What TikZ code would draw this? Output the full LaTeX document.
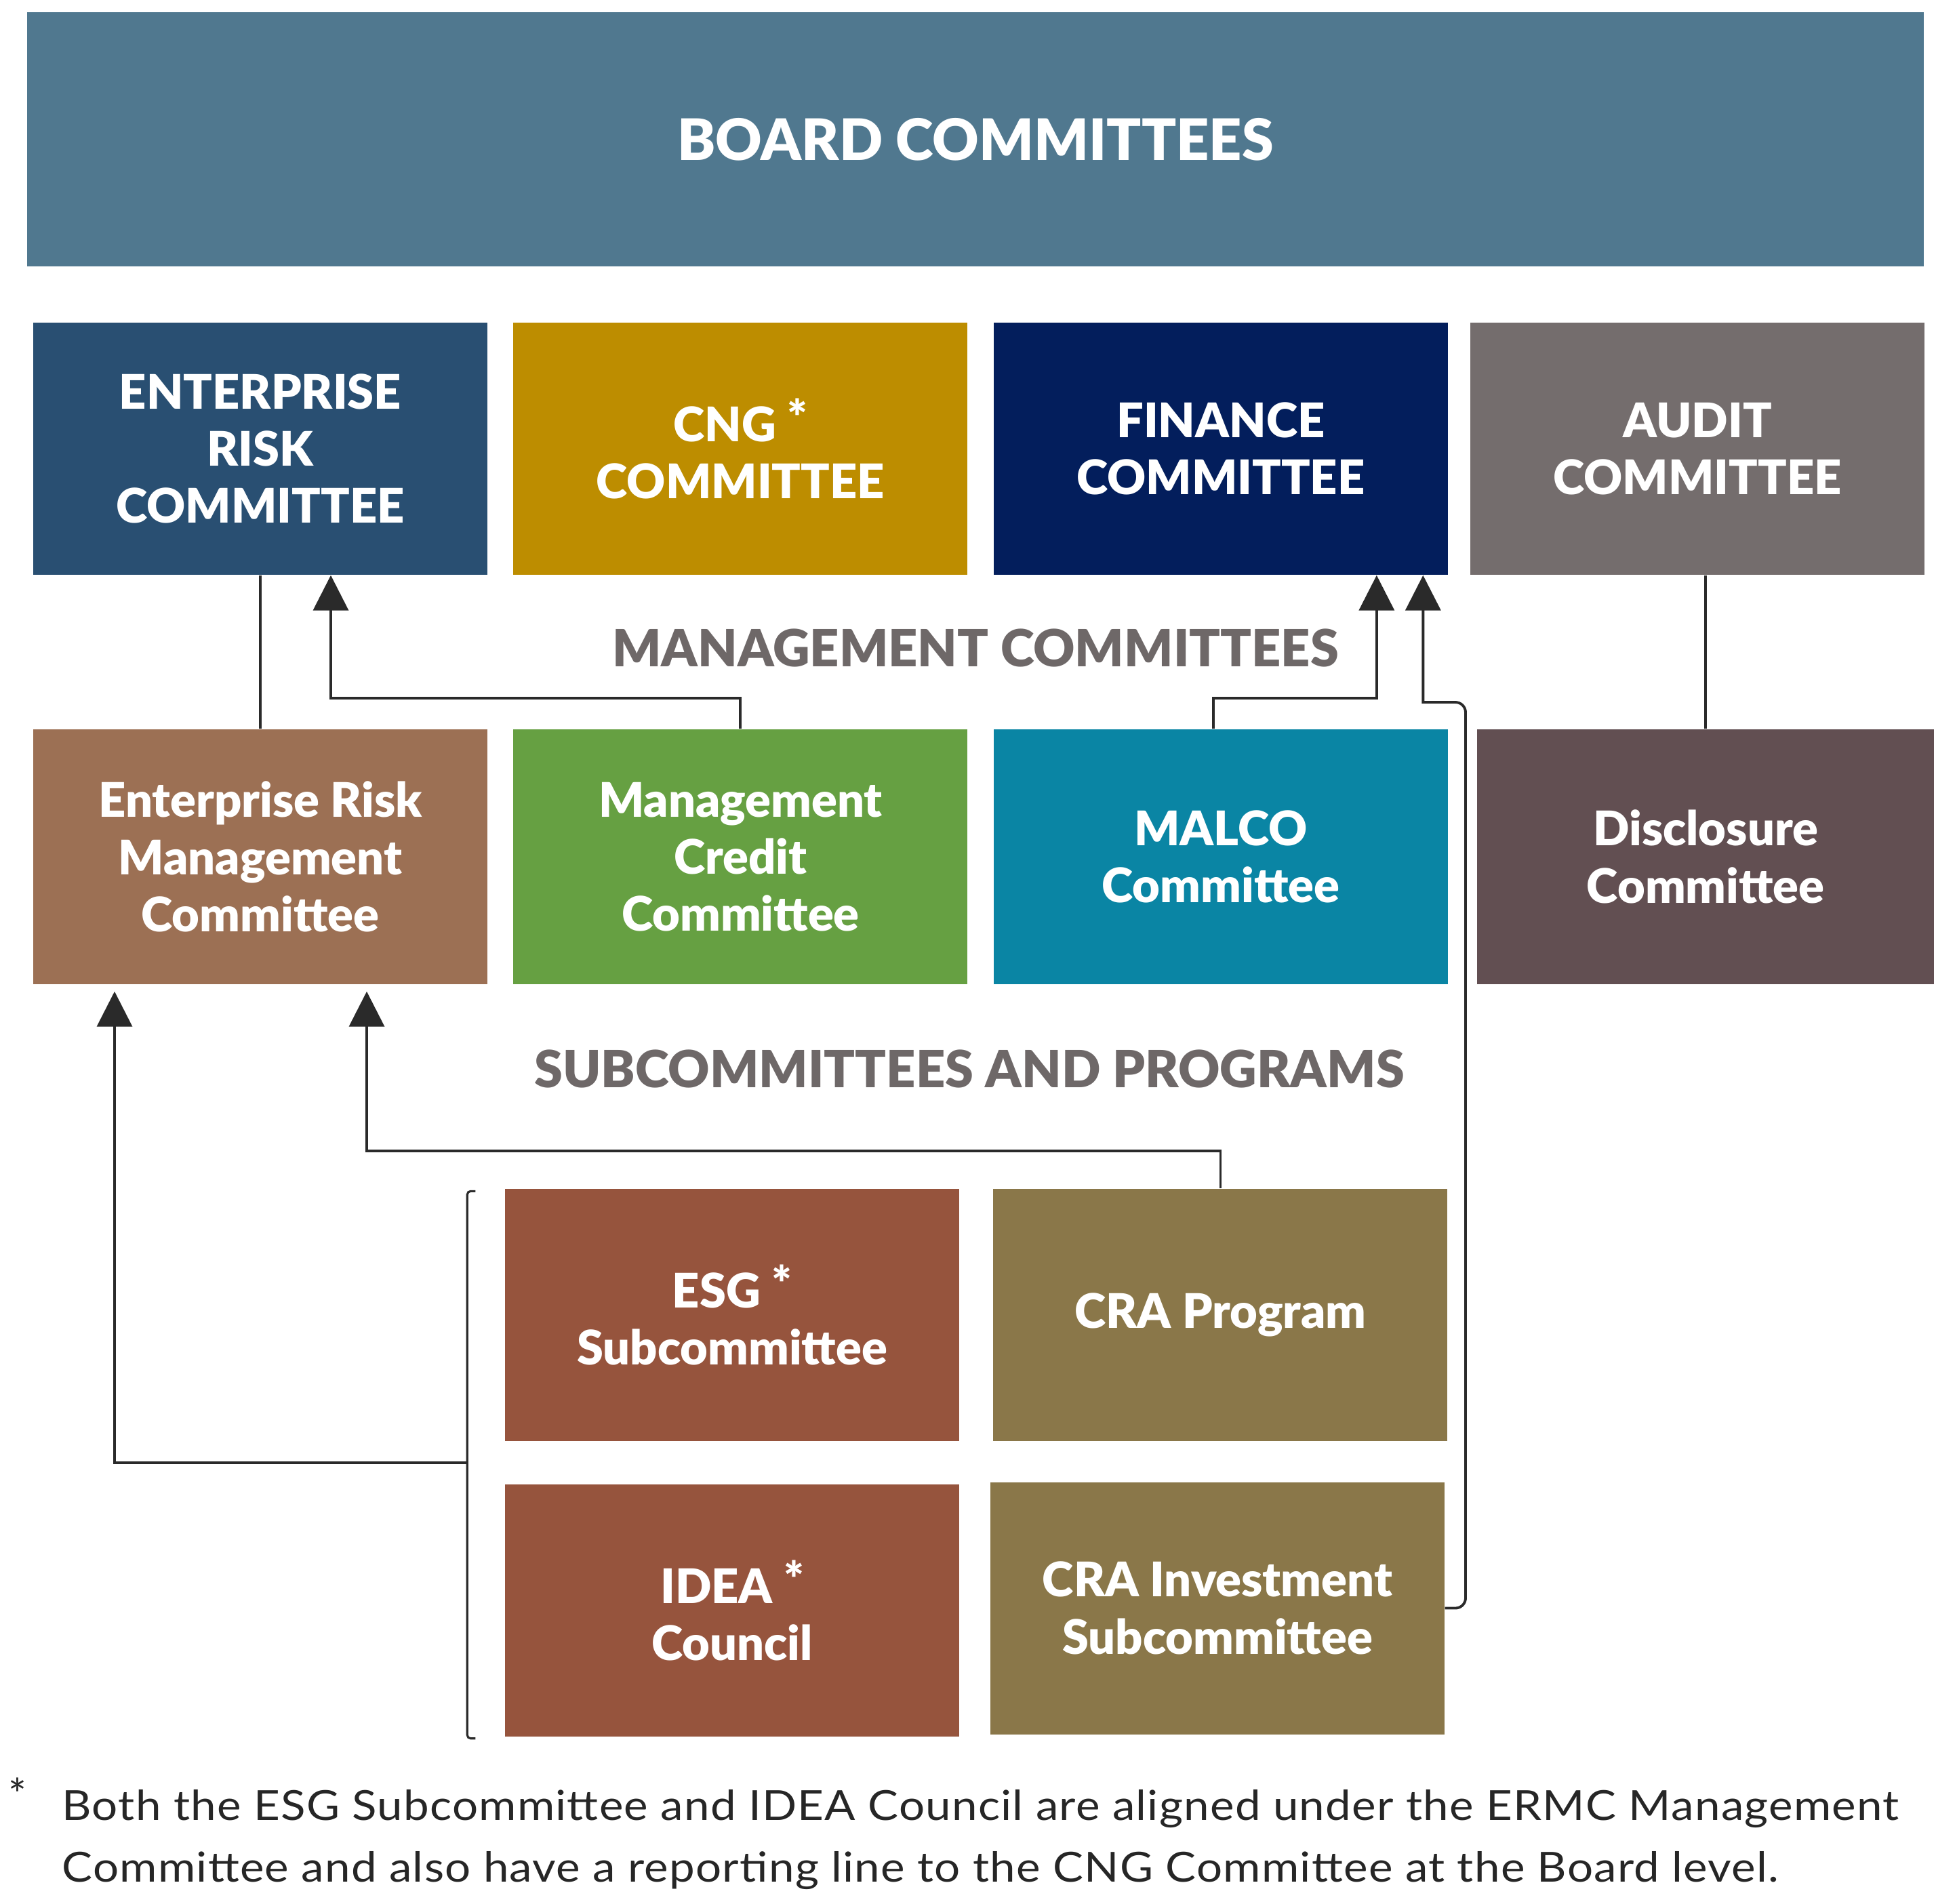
\documentclass[tikz,border=0pt]{standalone}
\usepackage{fontspec}
\setmainfont{Lato}
\newfontfamily\heavyfont{Lato Black}
\newfontfamily\notefont{Lato}[FakeStretch=1.1, LetterSpace=2]
\usetikzlibrary{positioning, arrows.meta, calc}

\definecolor{boardcol}{HTML}{50788F}
\definecolor{ercol}{HTML}{294F72}
\definecolor{cngcol}{HTML}{BD8D00}
\definecolor{fincol}{HTML}{031E5C}
\definecolor{audcol}{HTML}{746D6D}
\definecolor{ermcol}{HTML}{9C7054}
\definecolor{mcccol}{HTML}{66A042}
\definecolor{malcol}{HTML}{0A85A4}
\definecolor{discol}{HTML}{624F52}
\definecolor{esgcol}{HTML}{96543D}
\definecolor{cracol}{HTML}{8A7749}
\definecolor{labelgray}{HTML}{6E6868}
\definecolor{linegray}{HTML}{2A2A2A}

\begin{document}
\begin{tikzpicture}[Box/.style={rectangle, fill=#1, text=white, minimum width=6.7cm, minimum height=3.72cm, inner sep=0pt, align=center, font=\heavyfont\fontsize{20}{24}\selectfont},
		Head/.style={text=labelgray, inner sep=0pt, font=\heavyfont\fontsize{21.5}{26}\selectfont},
		Link/.style={draw=linegray, line width=1.1pt},
		Arr/.style={Link, -{Triangle[width=0.52cm,length=0.52cm]}},
		]
	\useasboundingbox (0,0) rectangle (28.56,-28.08);
	
	\node[Box=boardcol, minimum width=27.98cm, minimum height=3.75cm, font=\heavyfont\fontsize{24}{28}\selectfont] (board) at (14.39,-2.055) {BOARD COMMITTEES};
	
	% board committees
	\node[Box=ercol] (erc) at (3.84,-6.62) {ENTERPRISE\\RISK\\COMMITTEE};
	\node[Box=cngcol] (cng) [right=0.37cm of erc] {CNG \raisebox{0.15em}{*}\\COMMITTEE};
	\node[Box=fincol] (fin) [right=0.37cm of cng] {FINANCE\\COMMITTEE};
	\node[Box=audcol] (aud) [right=0.32cm of fin] {AUDIT\\COMMITTEE};
	
	\node[Head] (mgmt) at (14.39,-9.56) {MANAGEMENT COMMITTEES};
	
	% management committees
	\node[Box=ermcol, minimum height=3.76cm] (ermc) at (3.84,-12.64) {Enterprise Risk\\Management\\Committee};
	\node[Box=mcccol, minimum height=3.76cm] (mcc) [right=0.37cm of ermc] {Management\\Credit\\Committee};
	\node[Box=malcol, minimum height=3.76cm] (malco) [right=0.37cm of mcc] {MALCO\\Committee};
	\node[Box=discol, minimum height=3.76cm, minimum width=6.74cm] (disc) [right=0.42cm of malco] {Disclosure\\Committee};
	
	\node[Head] (subs) at (14.30,-15.77) {SUBCOMMITTEES AND PROGRAMS};
	
	% subcommittees and programs
	\node[Box=esgcol] (esg) at (10.80,-19.40) {ESG \raisebox{0.15em}{*}\\Subcommittee};
	\node[Box=cracol] (crprog) [right=0.49cm of esg] {CRA Program};
	\node[Box=esgcol] (idea) at (10.80,-23.76) {IDEA \raisebox{0.15em}{*}\\Council};
	\node[Box=cracol] (crainv) at (17.96,-23.725) {CRA Investment\\Subcommittee};
	
	% reporting lines
	\draw[Link] (erc.south) -- (ermc.north);
	\draw[Link] (disc.north) -- (disc.north |- aud.south);
	\draw[Arr] (mcc.north) -- ++(0,0.45) -| ([xshift=1.04cm]erc.south);
	\draw[Arr] ([xshift=-0.11cm]malco.north) -- ++(0,0.45) -| ([xshift=2.30cm]fin.south);
	\coordinate (crabend) at (21.62,-10.36);
	\draw[Arr] (crainv.east) [rounded corners=0.15cm] -| (crabend) [sharp corners] -| ([xshift=2.985cm]fin.south);
	\draw[Arr, shorten >=0.1cm] (crprog.north) -- ++(0,0.55) -| ([xshift=1.57cm]ermc.south);
	
	% bracket round ESG and IDEA
	\draw[Link, line width=0.9pt, rounded corners=0.05cm] ([xshift=-0.43cm,yshift=-0.04cm]esg.north west) -- ([xshift=-0.55cm,yshift=-0.04cm]esg.north west) -- ([xshift=-0.55cm,yshift=-0.02cm]idea.south west) -- ([xshift=-0.43cm,yshift=-0.02cm]idea.south west);
	\coordinate (brmid) at ($(esg.south west)!0.5!(idea.north west)+(-0.55,0)$);
	\draw[Arr, shorten >=0.1cm] (brmid) -| ([xshift=-2.15cm]ermc.south);
	
	% footnote
	\node[anchor=north west, inner sep=0pt, text=black!85, font=\fontsize{18}{22}\selectfont] (star) at (0.12,-26.22) {*};
	\node[anchor=north west, inner sep=0pt, align=left, text=black!85, font=\notefont\fontsize{17.4}{25.8}\selectfont] (note) at (0.91,-26.40) {Both the ESG Subcommittee and IDEA Council are aligned under the ERMC Management\\Committee and also have a reporting line to the CNG Committee at the Board level.};
	
\end{tikzpicture}
\end{document}
